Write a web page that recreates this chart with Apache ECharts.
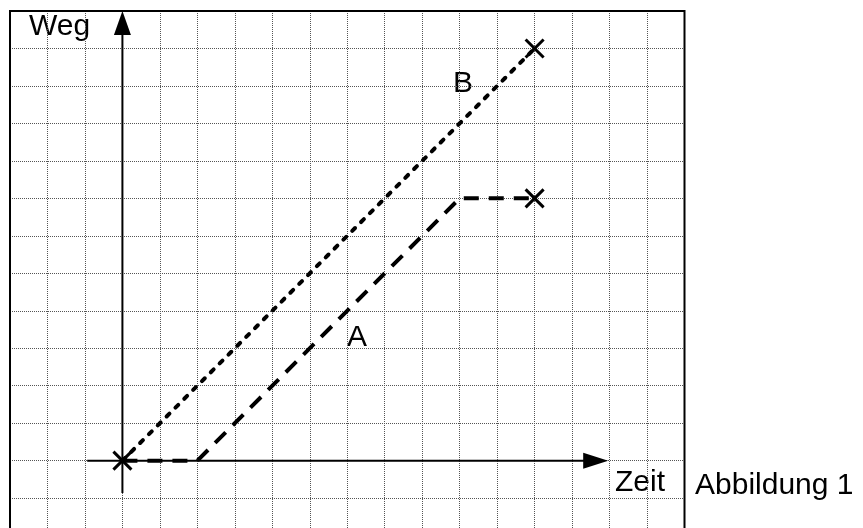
<!DOCTYPE html>
<html>
<head>
<meta charset="utf-8">
<title>Weg-Zeit</title>
<script src="https://cdn.jsdelivr.net/npm/echarts@6/dist/echarts.min.js"></script>
<style>
  html, body { margin: 0; padding: 0; background: #fff; }
  #chart { width: 863px; height: 528px; }
</style>
</head>
<body>
<div id="chart"></div>
<script>
// Werte in Kästchen (1 Einheit = 1 Kästchen), Ursprung im Schnittpunkt der Achsen
let lineA = [[0, 0], [2, 0], [9, 7], [11, 7]]
let lineB = [[0, 0], [11, 11]]
let crosses = [[0, 0], [11, 11], [11, 7]]
// Achsen: Anfang und Mitte der Pfeilspitze
let axisX = [[-0.94, 0], [12.63, 0]]
let axisY = [[0, -0.86], [0, 11.68]]
let xRange = [-3, 15]
let yRange = [-2, 12]

let myChart = echarts.init(document.getElementById('chart'), null, { renderer: 'canvas' })

let txt = (t, x, y) => ({
  type: 'text',
  left: x,
  top: y,
  style: { text: t, fill: '#000', font: '30px "Liberation Sans", Arial, sans-serif' }
})

function arrowSeries (pts, rotate, size) {
  return {
    type: 'line',
    data: [
      { value: pts[0], symbol: 'none' },
      { value: pts[1], symbol: 'triangle', symbolRotate: rotate, symbolSize: size }
    ],
    showSymbol: true,
    clip: false,
    lineStyle: { color: '#000', width: 2 },
    itemStyle: { color: '#000' },
    silent: true,
    z: 3
  }
}

myChart.setOption({
  animation: false,
  backgroundColor: '#fff',
  grid: {
    left: 10,
    top: 11,
    width: 674.5,
    height: 524.6,
    outerBoundsMode: 'none',
    show: true,
    borderColor: '#000',
    borderWidth: 2,
    backgroundColor: 'transparent',
    z: 5
  },
  xAxis: {
    type: 'value',
    min: xRange[0],
    max: xRange[1],
    interval: 1,
    axisLine: { show: false },
    axisTick: { show: false },
    axisLabel: { show: false },
    splitLine: { show: true, lineStyle: { type: 'dotted', color: '#555', width: 1 } }
  },
  yAxis: {
    type: 'value',
    min: yRange[0],
    max: yRange[1],
    interval: 1,
    axisLine: { show: false },
    axisTick: { show: false },
    axisLabel: { show: false },
    splitLine: { show: true, lineStyle: { type: 'dotted', color: '#555', width: 1 } }
  },
  series: [
    arrowSeries(axisX, -90, [16, 25]),
    arrowSeries(axisY, 0, [17, 24]),
    {
      name: 'B',
      type: 'line',
      data: lineB,
      symbol: 'none',
      lineStyle: { color: '#000', width: 4, type: [4, 8.5], cap: 'round' },
      z: 4
    },
    {
      name: 'A',
      type: 'line',
      data: lineA,
      symbol: 'none',
      lineStyle: { color: '#000', width: 4, type: [15, 10], cap: 'butt' },
      z: 4
    },
    {
      type: 'scatter',
      data: crosses,
      symbol: 'path://M0,0L1,1M1,0L0,1',
      symbolSize: 18,
      itemStyle: { color: 'none', borderColor: '#000', borderWidth: 3, opacity: 1 },
      clip: false,
      z: 6
    }
  ],
  graphic: [
    txt('Weg', 29, 12),
    txt('B', 453, 69),
    txt('A', 347, 323),
    txt('Zeit', 615, 468),
    txt('Abbildung 1', 695, 471)
  ]
})
</script>
</body>
</html>
